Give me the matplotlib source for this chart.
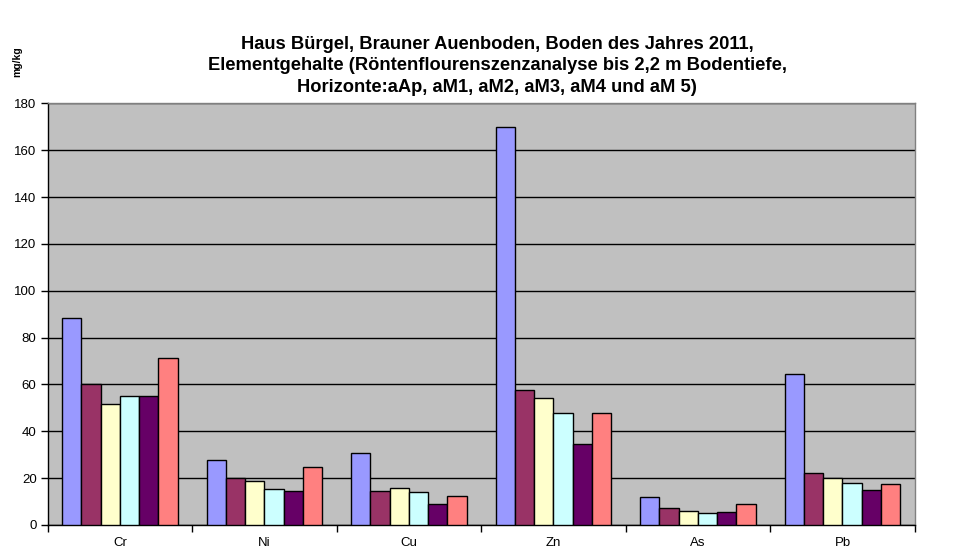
import matplotlib.pyplot as plt
import numpy as np

plt.rcParams['font.family'] = ['Liberation Sans', 'DejaVu Sans']

# --- Daten ---
elements = ['Cr', 'Ni', 'Cu', 'Zn', 'As', 'Pb']
horizons = ['aAp', 'aM1', 'aM2', 'aM3', 'aM4', 'aM5']
aAp = [88.3, 27.6, 30.6, 170.0, 11.8, 64.5]
aM1 = [60.0, 19.9, 14.4, 57.5, 7.1, 22.1]
aM2 = [51.8, 18.7, 15.7, 54.1, 5.8, 20.0]
aM3 = [55.0, 15.3, 14.0, 47.7, 5.0, 17.8]
aM4 = [55.0, 14.5, 8.8, 34.5, 5.4, 14.8]
aM5 = [71.2, 24.6, 12.3, 47.7, 8.8, 17.5]
series = [aAp, aM1, aM2, aM3, aM4, aM5]
colors = ['#9999FF', '#993366', '#FFFFCC', '#CCFFFF', '#660066', '#FF8080']

title = ("Haus Bürgel, Brauner Auenboden, Boden des Jahres 2011,\n"
         "Elementgehalte (Röntenflourenszenzanalyse bis 2,2 m Bodentiefe,\n"
         "Horizonte:aAp, aM1, aM2, aM3, aM4 und aM 5)")

fig = plt.figure(figsize=(9.58, 5.48), dpi=100)
ax = fig.add_axes([0.0498, 0.042, 0.905, 0.7695])
ax.set_facecolor('#C0C0C0')

# --- Balken ---
n = len(series)
bar_w = 1.0 / (n + 1.5)
x = np.arange(len(elements))
for i, vals in enumerate(series):
    offs = (i - (n - 1) / 2) * bar_w
    ax.bar(x + offs, vals, width=bar_w, color=colors[i], edgecolor='black',
           linewidth=1.0, label=horizons[i], zorder=3)

# --- Achsen ---
ax.set_xlim(-0.5, len(elements) - 0.5)
ax.set_ylim(0, 180)
ax.set_yticks(range(0, 181, 20))
ax.yaxis.grid(True, color='black', linewidth=1.0, zorder=1)
ax.set_axisbelow(True)

ax.set_xticks(x)
ax.set_xticklabels(elements, fontsize=9.5)
ax.set_xticks(np.arange(-0.5, len(elements) + 0.5, 1), minor=True)
ax.tick_params(axis='x', which='major', length=0, pad=9)
ax.tick_params(axis='x', which='minor', length=5, width=1, direction='out')
ax.tick_params(axis='y', length=5, width=1, labelsize=9.5, pad=3)

ax.spines['left'].set_color('black')
ax.spines['bottom'].set_color('black')
ax.spines['top'].set_color('#808080')
ax.spines['right'].set_color('#808080')
for s in ax.spines.values():
    s.set_linewidth(1.0)

fig.text(0.519, 0.934, title, ha='center', va='top', fontsize=13.2,
         fontweight='bold', linespacing=1.33)
fig.text(0.018, 0.887, 'mg/kg', rotation=90, ha='center', va='center',
         fontsize=7.5, fontweight='bold')

fig.savefig('out.png', dpi=100)
